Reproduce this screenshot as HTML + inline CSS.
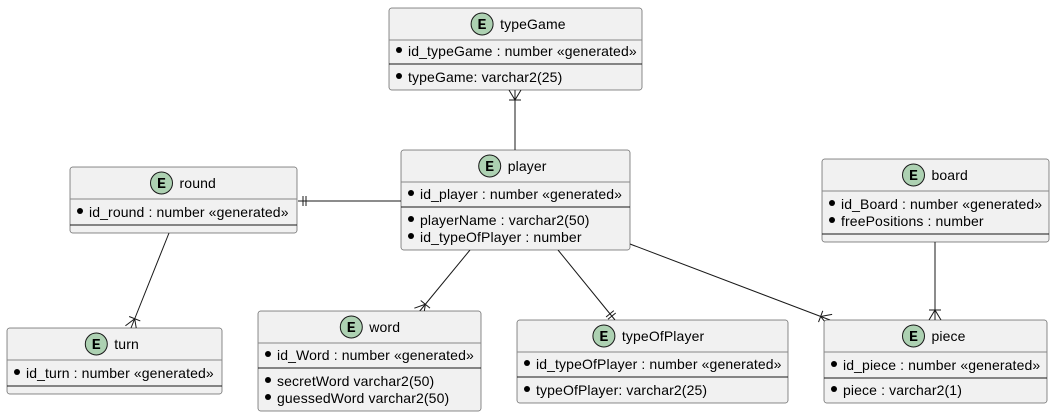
<!DOCTYPE html>
<html><head><meta charset="utf-8"><style>
html,body{margin:0;padding:0;background:#fff;width:1055px;height:417px;overflow:hidden}
svg text{font-family:"Liberation Sans",sans-serif;font-size:14px;fill:#000;letter-spacing:0.12px}
</style></head><body>
<svg id="s" width="1055" height="417" xmlns="http://www.w3.org/2000/svg"></svg>
<script>
var S=document.getElementById('s'),h='';
function ent(x,y,w,hh,title,rows){
  h+='<rect x="'+x+'" y="'+y+'" width="'+w+'" height="'+hh+'" rx="2.5" fill="#f1f1f1" stroke="#181818" stroke-width="0.5"/>';
  var tw=title.length*7.6, cx=x+w/2, total=22+6+tw, sx=cx-total/2;
  h+='<circle cx="'+(sx+11)+'" cy="'+(y+16)+'" r="11" fill="#ADD1B2" stroke="#181818" stroke-width="1"/>';
  h+='<text x="'+(sx+11)+'" y="'+(y+21)+'" text-anchor="middle" style="font-family:\'Liberation Mono\',monospace;font-weight:bold;font-size:15px">E</text>';
  h+='<text x="'+(sx+29)+'" y="'+(y+21)+'">'+title+'</text>';
  h+='<line x1="'+x+'" y1="'+(y+32)+'" x2="'+(x+w)+'" y2="'+(y+32)+'" stroke="#888" stroke-width="1"/>';
  rows.forEach(function(r){
    if(r.line!==undefined){h+='<line x1="'+x+'" y1="'+r.line+'" x2="'+(x+w)+'" y2="'+r.line+'" stroke="#181818" stroke-width="1"/>';return;}
    h+='<circle cx="'+(x+10)+'" cy="'+(r.y-6)+'" r="3" fill="#000"/>';
    h+='<text x="'+(x+19)+'" y="'+r.y+'">'+r.t+'</text>';
  });
}
function L(a,b,c,d){h+='<line x1="'+a+'" y1="'+b+'" x2="'+c+'" y2="'+d+'" stroke="#181818" stroke-width="1"/>';}
function crow(ox,oy,ex,ey){
  var dx=ex-ox,dy=ey-oy,l=Math.hypot(dx,dy);dx/=l;dy/=l;var px=-dy,py=dx;
  L(ox,oy,ex,ey);
  var fx=ex-dx*10,fy=ey-dy*10;
  L(fx,fy,ex+px*6,ey+py*6);L(fx,fy,ex-px*6,ey-py*6);
  L(fx+px*6,fy+py*6,fx-px*6,fy-py*6);
}
function one(ox,oy,ex,ey){
  var dx=ex-ox,dy=ey-oy,l=Math.hypot(dx,dy);dx/=l;dy/=l;var px=-dy,py=dx;
  L(ox,oy,ex,ey);
  [5,8].forEach(function(k){var fx=ex-dx*k,fy=ey-dy*k;L(fx+px*5,fy+py*5,fx-px*5,fy-py*5);});
}
crow(515,150,515,90);
one(401,201,298,201);
crow(169,233,131,328);
crow(470,250,419,312);
one(558,250,615,320);
crow(630,244,830,320);
crow(935,242,935,320);

ent(389,8,253,82,'typeGame',[{t:'id_typeGame : number «generated»',y:56},{line:64},{t:'typeGame: varchar2(25)',y:82}]);
ent(401,150,229,100,'player',[{t:'id_player : number «generated»',y:199},{line:207},{t:'playerName :  varchar2(50)',y:225},{t:'id_typeOfPlayer : number',y:242}]);
ent(70,167,227,66,'round',[{t:'id_round : number «generated»',y:217},{line:225}]);
ent(7,328,215,66,'turn',[{t:'id_turn : number «generated»',y:378},{line:386}]);
ent(258,311,223,100,'word',[{t:'id_Word : number «generated»',y:360},{line:368},{t:'secretWord varchar2(50)',y:386},{t:'guessedWord varchar2(50)',y:403}]);
ent(517,320,271,83,'typeOfPlayer',[{t:'id_typeOfPlayer : number «generated»',y:369},{line:377},{t:'typeOfPlayer: varchar2(25)',y:395}]);
ent(822,159,227,83,'board',[{t:'id_Board : number «generated»',y:209},{t:'freePositions : number',y:226},{line:234}]);
ent(824,320,223,83,'piece',[{t:'id_piece : number «generated»',y:370},{line:378},{t:'piece : varchar2(1)',y:395}]);
S.innerHTML=h;
</script>
</body></html>
